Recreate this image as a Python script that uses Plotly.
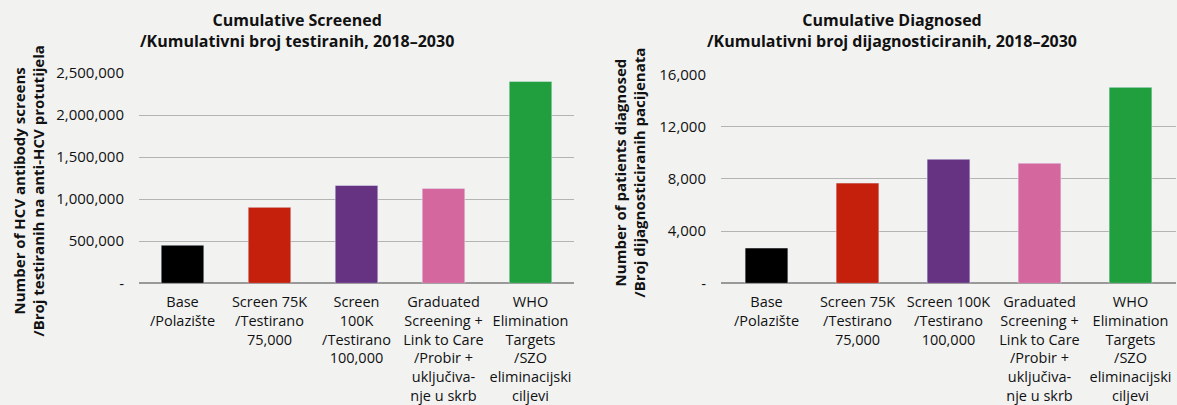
import plotly.graph_objects as go

categories_left = [
    "Base<br>/Polazište",
    "Screen 75K<br>/Testirano<br>75,000",
    "Screen<br>100K<br>/Testirano<br>100,000",
    "Graduated<br>Screening +<br>Link to Care<br>/Probir +<br>uključiva-<br>nje u skrb",
    "WHO<br>Elimination<br>Targets<br>/SZO<br>eliminacijski<br>ciljevi",
]
categories_right = [
    "Base<br>/Polazište",
    "Screen 75K<br>/Testirano<br>75,000",
    "Screen 100K<br>/Testirano<br>100,000",
    "Graduated<br>Screening +<br>Link to Care<br>/Probir +<br>uključiva-<br>nje u skrb",
    "WHO<br>Elimination<br>Targets<br>/SZO<br>eliminacijski<br>ciljevi",
]
screened = [453000, 903000, 1163000, 1128000, 2400000]
diagnosed = [2700, 7670, 9500, 9200, 15000]
bar_colors = ["#000000", "#c5200b", "#663383", "#d4679e", "#219e3e"]

left_tickvals = [0, 500000, 1000000, 1500000, 2000000, 2500000]
left_ticktext = ["-", "500,000", "1,000,000", "1,500,000", "2,000,000", "2,500,000"]
right_tickvals = [0, 4000, 8000, 12000, 16000]
right_ticktext = ["-", "4,000", "8,000", "12,000", "16,000"]

title_left = ["Cumulative Screened", "/Kumulativni broj testiranih, 2018–2030"]
title_right = ["Cumulative Diagnosed", "/Kumulativni broj dijagnosticiranih, 2018–2030"]
ytitle_left = ["Number of HCV antibody screens", "/Broj testiranih na anti-HCV protutijela"]
ytitle_right = ["Number of patients diagnosed", "/Broj dijagnosticiranih pacijenata"]

W, H = 1177, 405
BG = "#f2f3f1"
FONT = "Open Sans"

fig = go.Figure()
fig.add_trace(go.Bar(x=categories_left, y=screened, marker_color=bar_colors,
                     width=0.49, xaxis="x", yaxis="y", showlegend=False))
fig.add_trace(go.Bar(x=categories_right, y=diagnosed, marker_color=bar_colors,
                     width=0.47, xaxis="x2", yaxis="y2", showlegend=False))

axis_common_x = dict(showgrid=False, showline=False, ticks="", zeroline=False,
                     tickfont=dict(family=FONT, size=14.5, color="#111"),
                     tickangle=0, ticklabelstandoff=8, automargin=False)
axis_common_y = dict(showgrid=True, gridcolor="#b4b4b4", gridwidth=1,
                     zeroline=True, zerolinecolor="#999999", zerolinewidth=1.5,
                     showline=False, ticks="", ticklabelstandoff=14,
                     tickfont=dict(family=FONT, size=15, color="#111"),
                     automargin=False)

fig.update_layout(
    width=W, height=H,
    margin=dict(l=0, r=0, t=0, b=0),
    paper_bgcolor=BG, plot_bgcolor=BG,
    bargap=0.5,
    xaxis=dict(domain=[139 / W, 574 / W], anchor="y", **axis_common_x),
    yaxis=dict(domain=[(H - 283.3) / H, (H - 73.0) / H], anchor="x",
               range=[0, 2500000], tickvals=left_tickvals, ticktext=left_ticktext,
               **axis_common_y),
    xaxis2=dict(domain=[721 / W, 1176 / W], anchor="y2", **axis_common_x),
    yaxis2=dict(domain=[(H - 283.3) / H, (H - 74.3) / H], anchor="x2",
                range=[0, 16000], tickvals=right_tickvals, ticktext=right_ticktext,
                **axis_common_y),
)

ann = []
for lines, xc in ((title_left, 297), (title_right, 892)):
    ann.append(dict(text="<br>".join("<b>%s</b>" % t for t in lines),
                    x=xc / W, y=1 - 30.5 / H, xref="paper", yref="paper",
                    xanchor="center", yanchor="middle", showarrow=False,
                    font=dict(family=FONT, size=16, color="#111")))

for lines, xc, yc in ((ytitle_left, 28.5, 191), (ytitle_right, 629.5, 173)):
    ann.append(dict(text="<br>".join("<b>%s</b>" % t for t in lines),
                    x=xc / W, y=1 - yc / H, xref="paper", yref="paper",
                    xanchor="center", yanchor="middle", textangle=-90,
                    showarrow=False,
                    font=dict(family=FONT, size=15, color="#111")))

fig.update_layout(annotations=ann)
fig.write_html("out.html", config={"displayModeBar": False},
               post_script="document.body.style.margin='0';document.body.style.overflow='hidden';")
